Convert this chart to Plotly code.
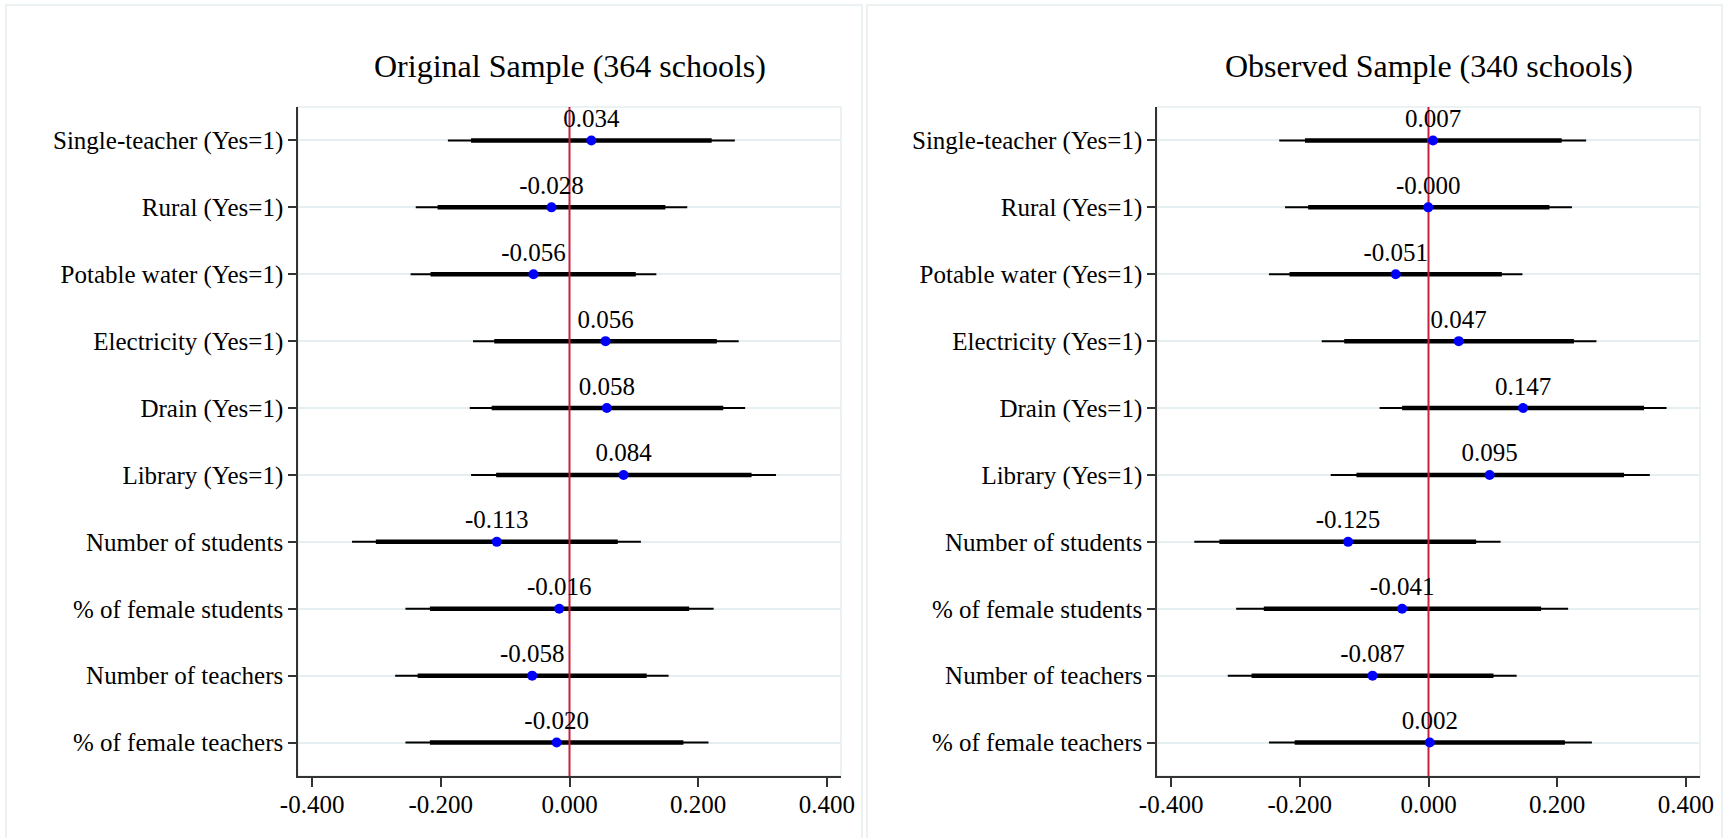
import plotly.graph_objects as go

# ---------------- data ----------------
categories = [
    "Single-teacher (Yes=1)", "Rural (Yes=1)", "Potable water (Yes=1)",
    "Electricity (Yes=1)", "Drain (Yes=1)", "Library (Yes=1)",
    "Number of students", "% of female students", "Number of teachers",
    "% of female teachers",
]

panel_titles = ["Original Sample (364 schools)", "Observed Sample (340 schools)"]

orig_est = [0.034, -0.028, -0.056, 0.056, 0.058, 0.084, -0.113, -0.016, -0.058, -0.020]
orig_lo95 = [-0.189, -0.239, -0.247, -0.150, -0.155, -0.153, -0.338, -0.255, -0.271, -0.255]
orig_hi95 = [0.257, 0.183, 0.135, 0.263, 0.273, 0.321, 0.111, 0.224, 0.154, 0.216]
orig_lo90 = [-0.153, -0.205, -0.216, -0.117, -0.121, -0.114, -0.301, -0.217, -0.236, -0.217]
orig_hi90 = [0.221, 0.149, 0.103, 0.229, 0.239, 0.283, 0.075, 0.186, 0.120, 0.177]

obs_est = [0.007, -0.0004, -0.051, 0.047, 0.147, 0.095, -0.125, -0.041, -0.087, 0.002]
obs_lo95 = [-0.232, -0.223, -0.248, -0.166, -0.076, -0.152, -0.364, -0.299, -0.312, -0.248]
obs_hi95 = [0.245, 0.223, 0.146, 0.261, 0.370, 0.344, 0.112, 0.217, 0.137, 0.254]
obs_lo90 = [-0.192, -0.187, -0.216, -0.131, -0.041, -0.112, -0.325, -0.256, -0.275, -0.208]
obs_hi90 = [0.207, 0.188, 0.114, 0.226, 0.335, 0.304, 0.074, 0.175, 0.101, 0.212]

x_tickvals = [-0.4, -0.2, 0.0, 0.2, 0.4]
x_ticktext = ["-0.400", "-0.200", "0.000", "0.200", "0.400"]

# ---------------- styling ----------------
W, H = 1727, 838
FONT = "Liberation Serif, Times New Roman, serif"
GRID = "#e5eef0"
FRAME = "#e6eef0"
AXIS = "#333333"
RED = "#c8203c"

ypos = list(range(len(categories)))


def segments(lo, hi):
    xs, ys = [], []
    for a, b, y in zip(lo, hi, ypos):
        xs += [a, b, None]
        ys += [y, y, None]
    return xs, ys


panels = [
    (orig_est, orig_lo95, orig_hi95, orig_lo90, orig_hi90),
    (obs_est, obs_lo95, obs_hi95, obs_lo90, obs_hi90),
]

x_domains = [[298 / W, 841 / W], [1157 / W, 1700 / W]]
y_domain = [1 - 776 / H, 1 - 107 / H]

fig = go.Figure()

for i, (est, lo95, hi95, lo90, hi90) in enumerate(panels):
    xa = "x" if i == 0 else "x2"
    ya = "y" if i == 0 else "y2"
    xs, ys = segments(lo95, hi95)
    fig.add_trace(go.Scatter(x=xs, y=ys, mode="lines", xaxis=xa, yaxis=ya,
                             line=dict(color="black", width=2), hoverinfo="skip"))
    xs, ys = segments(lo90, hi90)
    fig.add_trace(go.Scatter(x=xs, y=ys, mode="lines", xaxis=xa, yaxis=ya,
                             line=dict(color="black", width=4.5), hoverinfo="skip"))
    # zero reference line spanning the category range
    fig.add_trace(go.Scatter(x=[0, 0], y=[-0.5, len(categories) - 0.5], mode="lines",
                             xaxis=xa, yaxis=ya, line=dict(color=RED, width=2),
                             hoverinfo="skip"))
    fig.add_trace(go.Scatter(x=est, y=ypos, mode="markers+text", xaxis=xa, yaxis=ya,
                             marker=dict(color="#0000ff", size=10),
                             text=[f"{v:.3f}" for v in est],
                             textposition="top center",
                             textfont=dict(family=FONT, size=25, color="black"),
                             cliponaxis=False))

axis_common_x = dict(
    range=[-0.422, 0.422], tickvals=x_tickvals, ticktext=x_ticktext,
    ticks="outside", ticklen=9, tickwidth=1.5, tickcolor=AXIS,
    ticklabelstandoff=-4,
    showline=True, linecolor=AXIS, linewidth=1.5,
    showgrid=False, zeroline=False, automargin=False,
    tickfont=dict(family=FONT, size=25, color="black"),
)
axis_common_y = dict(
    range=[len(categories) - 0.5, -0.5], tickvals=ypos, ticktext=categories,
    ticks="outside", ticklen=8, tickwidth=1.5, tickcolor=AXIS,
    showline=True, linecolor=AXIS, linewidth=1.5,
    showgrid=True, gridcolor=GRID, gridwidth=1.5,
    zeroline=False, automargin=False, domain=y_domain,
    tickfont=dict(family=FONT, size=25, color="black"),
)

fig.update_layout(
    width=W, height=H,
    margin=dict(l=0, r=0, t=0, b=0),
    paper_bgcolor="white", plot_bgcolor="white",
    showlegend=False,
    font=dict(family=FONT, color="black"),
    xaxis=dict(domain=x_domains[0], anchor="y", **axis_common_x),
    yaxis=dict(anchor="x", **axis_common_y),
    xaxis2=dict(domain=x_domains[1], anchor="y2", **axis_common_x),
    yaxis2=dict(anchor="x2", **axis_common_y),
)

shapes = []
# panel frames (bottom edge runs off the page as in the reference)
for x0, x1 in [(6, 862), (867, 1722)]:
    shapes.append(dict(type="rect", xref="paper", yref="paper",
                       x0=x0 / W, x1=x1 / W, y0=-0.02, y1=1 - 5 / H,
                       line=dict(color=FRAME, width=1.5), layer="below"))
# plot area outlines (light top/right borders)
for xr, yr in [("x domain", "y domain"), ("x2 domain", "y2 domain")]:
    shapes.append(dict(type="rect", xref=xr, yref=yr, x0=0, x1=1, y0=0, y1=1,
                       line=dict(color=FRAME, width=1.5), layer="below"))
fig.update_layout(shapes=shapes)

annotations = []
for i, t in enumerate(panel_titles):
    d = x_domains[i]
    annotations.append(dict(text=t, xref="paper", yref="paper",
                            x=(d[0] + d[1]) / 2, y=1 - 66 / H,
                            xanchor="center", yanchor="middle", showarrow=False,
                            font=dict(family=FONT, size=32, color="black")))
fig.update_layout(annotations=annotations)

fig.write_html("out.html", config={"displayModeBar": False},
               post_script="document.body.style.margin='0';")
